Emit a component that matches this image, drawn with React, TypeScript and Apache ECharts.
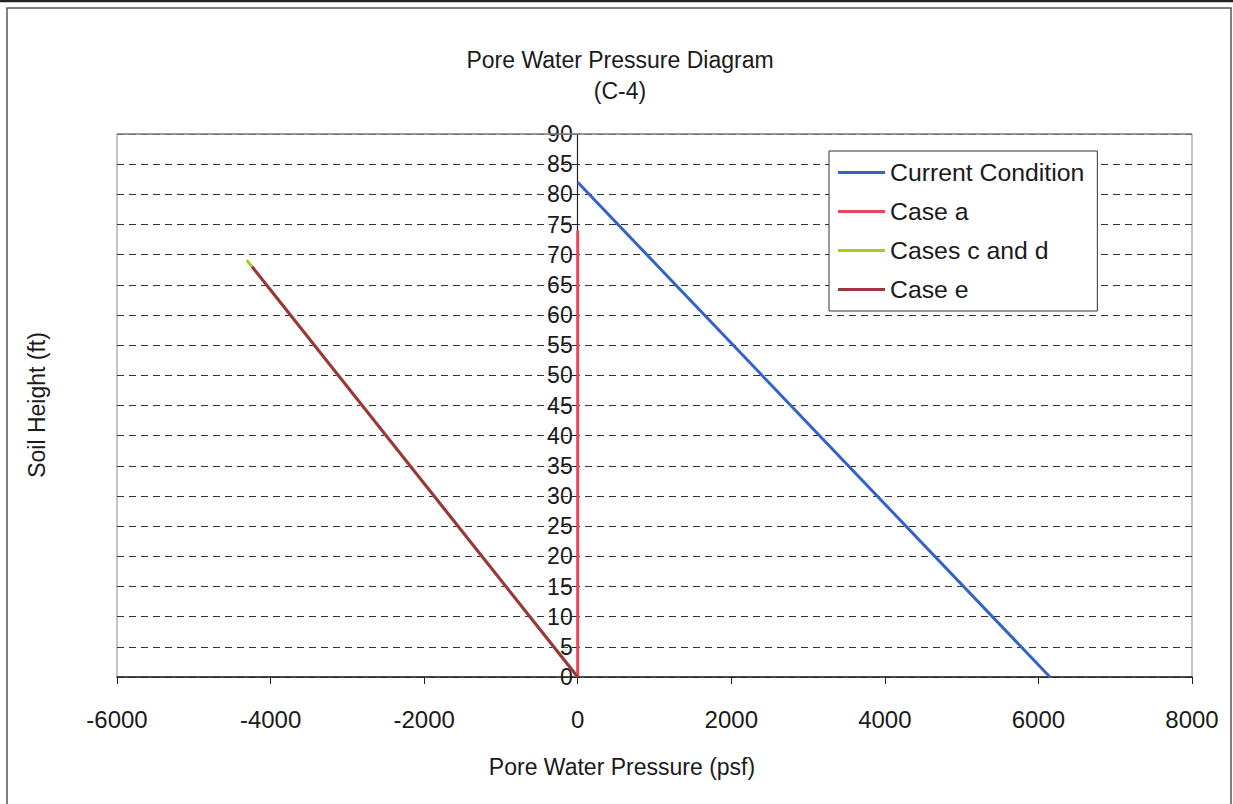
import React, { useEffect, useRef } from "react";
import * as echarts from "echarts";

// Data (pressure in psf, height in ft)
const seriesNames = ["Current Condition", "Case a", "Cases c and d", "Case e"];
const currentCondition: [number, number][] = [[0, 82], [6150, 0]];
const caseA: [number, number][] = [[0, 0], [0, 74]];
const casesCD: [number, number][] = [[0, 0], [-4310, 69.1]];
const caseE: [number, number][] = [[0, 0], [-4240, 68]];
const seriesColors = ["#3562c9", "#e8485c", "#a6cc1e", "#9c3444"];

const titleText = "Pore Water Pressure Diagram\n(C-4)";
const xTitle = "Pore Water Pressure (psf)";
const yTitle = "Soil Height (ft)";

const FONT = "'Liberation Sans', Arial, sans-serif";

const GRID_LEFT = 117;
const GRID_RIGHT = 41;
const X_MIN = -6000;
const X_MAX = 8000;

export default function App() {
  const ref = useRef<HTMLDivElement>(null);
  useEffect(() => {
    if (!ref.current) return;
    const chart = echarts.init(ref.current, undefined, { renderer: "svg" });
    const allData = [currentCondition, caseA, casesCD, caseE];
    const gridWidth = 1233 - GRID_LEFT - GRID_RIGHT;
    const zeroOffset = ((0 - X_MIN) / (X_MAX - X_MIN)) * gridWidth;
    chart.setOption({
      animation: false,
      backgroundColor: "#ffffff",
      textStyle: { fontFamily: FONT },
      grid: {
        left: GRID_LEFT,
        right: GRID_RIGHT,
        top: 134,
        bottom: 127,
        show: true,
        borderColor: "#8a8a8a",
        borderWidth: 1,
        containLabel: false,
      },
      legend: {
        orient: "vertical",
        left: 829,
        top: 151,
        data: seriesNames,
        icon: "rect",
        itemWidth: 47,
        itemHeight: 3,
        itemGap: 14,
        backgroundColor: "#ffffff",
        borderColor: "#333333",
        borderWidth: 1,
        padding: [9, 13, 9, 9],
        textStyle: { fontFamily: FONT, fontSize: 24.8, color: "#1a1a1a", lineHeight: 24 },
      },
      xAxis: {
        type: "value",
        min: X_MIN,
        max: X_MAX,
        interval: 2000,
        axisLine: { show: true, onZero: false, lineStyle: { color: "#222", width: 1.5 } },
        axisTick: { show: true, inside: false, length: 7, lineStyle: { color: "#222" } },
        axisLabel: {
          fontFamily: FONT,
          fontSize: 24,
          color: "#1a1a1a",
          margin: 30,
          formatter: (v: number) => String(v),
        },
        splitLine: { show: false },
      },
      yAxis: {
        type: "value",
        min: 0,
        max: 90,
        interval: 5,
        position: "left",
        offset: -zeroOffset,
        axisLine: { show: true, onZero: false, lineStyle: { color: "#222", width: 1.2 } },
        axisTick: { show: true, inside: false, length: 6, lineStyle: { color: "#222" } },
        axisLabel: { fontFamily: FONT, fontSize: 23, color: "#1a1a1a", margin: 5 },
        splitLine: { show: true, lineStyle: { color: "#333", type: [7, 5], width: 1 } },
      },
      series: allData.map((d, i) => ({
        name: seriesNames[i],
        type: "line",
        data: d,
        showSymbol: false,
        symbol: "none",
        color: seriesColors[i],
        lineStyle: { color: seriesColors[i], width: 3 },
        z: 3 + i,
      })),
      graphic: [
        {
          type: "line",
          shape: { x1: 0, y1: 1, x2: 1233, y2: 1 },
          style: { stroke: "#222", lineWidth: 2.5 },
          silent: true,
        },
        {
          type: "rect",
          shape: { x: 7, y: 8, width: 1224, height: 830 },
          style: { fill: "none", stroke: "#555", lineWidth: 1.5 },
          silent: true,
        },
        {
          type: "line",
          shape: { x1: GRID_LEFT, y1: 134, x2: 1233 - GRID_RIGHT, y2: 134 },
          style: { stroke: "#8a8a8a", lineWidth: 1.5 },
          silent: true,
          z: 10,
        },
        {
          type: "text",
          x: 620,
          y: 44,
          style: {
            text: titleText,
            font: `23px ${FONT}`,
            fill: "#1a1a1a",
            textAlign: "center",
            lineHeight: 31,
          },
        },
        {
          type: "text",
          x: 622,
          y: 755,
          style: {
            text: xTitle,
            font: `23px ${FONT}`,
            fill: "#1a1a1a",
            textAlign: "center",
          },
        },
        {
          type: "text",
          x: 37,
          y: 405,
          rotation: Math.PI / 2,
          style: {
            text: yTitle,
            font: `23px ${FONT}`,
            fill: "#1a1a1a",
            textAlign: "center",
            textVerticalAlign: "middle",
          },
        },
      ],
    });
    return () => chart.dispose();
  }, []);
  return (
    <div
      ref={ref}
      style={{ position: "fixed", left: 0, top: 0, width: 1233, height: 804, background: "#fff" }}
    />
  );
}
